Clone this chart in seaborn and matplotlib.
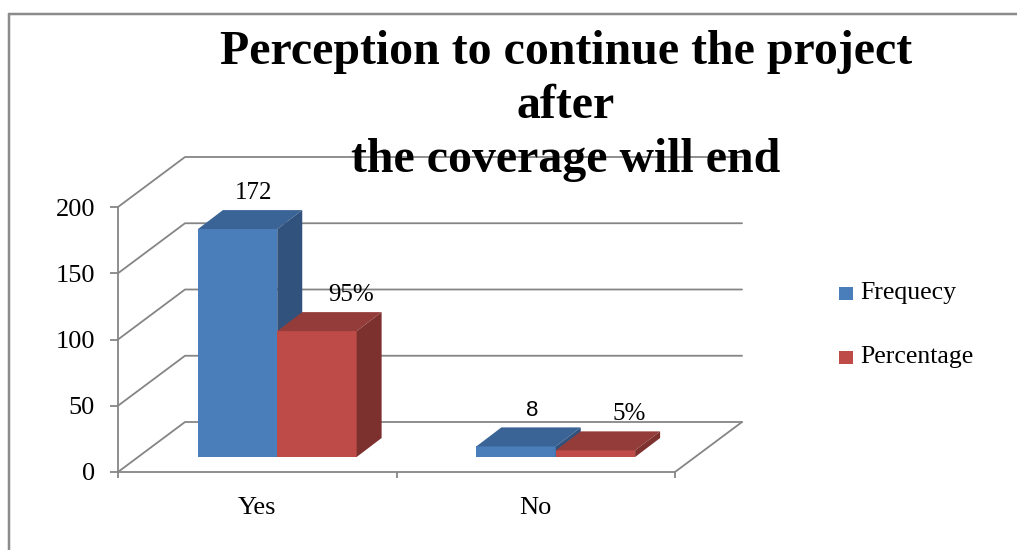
import matplotlib
matplotlib.use("Agg")
import matplotlib.pyplot as plt
from matplotlib.patches import Polygon, Rectangle
from matplotlib.lines import Line2D
from matplotlib.transforms import ScaledTranslation
import seaborn as sns
import pandas as pd

# ---- data -------------------------------------------------------------
categories = ["Yes", "No"]
frequency = [172, 8]
percentage = [95, 5]
frequency_labels = ["172", "8"]
percentage_labels = ["95%", "5%"]
series_names = ["Frequecy", "Percentage"]
y_ticks = [0, 50, 100, 150, 200]
title = "Perception to continue the project\nafter\nthe coverage will end"

# ---- style ------------------------------------------------------------
sns.set_theme(style="white")
plt.rcParams["font.family"] = ["Liberation Serif", "DejaVu Serif"]

W, H, DPI = 1017, 550, 100
GRID = "#858585"
front_col = ["#4a7ebb", "#be4b48"]
top_col = ["#3b6496", "#943c3a"]
side_col = ["#30527d", "#7d312f"]
WALL = (67, 50)      # depth of the 3-D box, pixels
BAR_OFF = (20, 15)   # bar front face sits inside the box
BAR_D = (25, 19)     # depth of each bar, pixels
PT = 72 / DPI        # points per pixel
LW = 1.8 * PT

fig = plt.figure(figsize=(W / DPI, H / DPI), dpi=DPI)
fig.patch.set_facecolor("white")
ax = fig.add_axes([118 / W, 1 - 472 / H, 557 / W, 265 / H])
ax.patch.set_visible(False)

df = pd.DataFrame({
    "Response": categories * 2,
    "Value": frequency + percentage,
    "Series": [series_names[0]] * len(categories) + [series_names[1]] * len(categories),
})
sns.barplot(data=df, x="Response", y="Value", hue="Series", order=categories,
            hue_order=series_names, palette=front_col, saturation=1, width=0.57,
            errorbar=None, legend=False, linewidth=0, ax=ax)
ax.set_xlim(-0.5, 1.5)
ax.set_ylim(0, 200)
ax.set_xlabel("")
ax.set_ylabel("")


def px(x, y):
    return ax.transData.transform((x, y))


def ffrac(points):
    return [(a / W, b / H) for a, b in points]


def seg(points, **kw):
    xs = [p[0] / W for p in points]
    ys = [p[1] / H for p in points]
    ax.add_line(Line2D(xs, ys, transform=fig.transFigure, clip_on=False, **kw))


# ---- back wall, left wall and floor lines ----------------------------
xl, xr = ax.get_xlim()
for t in y_ticks:
    fx, fy = px(xl, t)
    rx, ry = px(xr, t)
    seg([(fx, fy), (fx + WALL[0], fy + WALL[1]), (rx + WALL[0], ry + WALL[1])],
        color=GRID, lw=LW, zorder=0.5)
rx0, ry0 = px(xr, 0)
seg([(rx0, ry0), (rx0 + WALL[0], ry0 + WALL[1])], color=GRID, lw=LW, zorder=0.5)

# ---- 3-D bars ---------------------------------------------------------
labels_by_series = [frequency_labels, percentage_labels]
label_fonts = [["Liberation Serif", "Liberation Sans"], ["Liberation Serif", "Liberation Serif"]]
label_sizes = [[18, 16], [18, 18]]
label_dx = [16, 34]   # horizontal nudge of value labels per series, pixels
label_dy = 36         # label centre above the bar's front top edge, pixels
bars = sorted(ax.patches, key=lambda p: p.get_x())
shift = ScaledTranslation(BAR_OFF[0] / DPI, BAR_OFF[1] / DPI, fig.dpi_scale_trans)
for i, bar in enumerate(bars):
    s = i % 2
    c = i // 2
    z = 3 + i * 0.1
    x0, w, h = bar.get_x(), bar.get_width(), bar.get_height()
    bar.set_transform(ax.transData + shift)
    bar.set_zorder(z)
    bar.set_clip_on(False)
    (ax0, ay0) = px(x0, 0)
    (ax1, ay1) = px(x0 + w, h)
    ax0 += BAR_OFF[0]; ax1 += BAR_OFF[0]
    ay0 += BAR_OFF[1]; ay1 += BAR_OFF[1]
    top = [(ax0, ay1), (ax1, ay1), (ax1 + BAR_D[0], ay1 + BAR_D[1]), (ax0 + BAR_D[0], ay1 + BAR_D[1])]
    side = [(ax1, ay0), (ax1 + BAR_D[0], ay0 + BAR_D[1]), (ax1 + BAR_D[0], ay1 + BAR_D[1]), (ax1, ay1)]
    ax.add_patch(Polygon(ffrac(top), closed=True, facecolor=top_col[s], edgecolor="none",
                         transform=fig.transFigure, clip_on=False, zorder=z + 0.01))
    ax.add_patch(Polygon(ffrac(side), closed=True, facecolor=side_col[s], edgecolor="none",
                         transform=fig.transFigure, clip_on=False, zorder=z + 0.02))
    cx = (ax0 + ax1) / 2 + label_dx[s]
    ax.text(cx / W, (ay1 + label_dy) / H, labels_by_series[s][c], transform=fig.transFigure,
            ha="center", va="center", fontsize=label_sizes[s][c],
            family=label_fonts[s][c], color="black", zorder=10)

# ---- axes, ticks ------------------------------------------------------
for name in ["top", "right"]:
    ax.spines[name].set_visible(False)
for name in ["left", "bottom"]:
    ax.spines[name].set_color(GRID)
    ax.spines[name].set_linewidth(LW)
    ax.spines[name].set_zorder(1)
ax.set_yticks(y_ticks)
ax.set_yticklabels([str(t) for t in y_ticks])
ax.tick_params(axis="y", length=8 * PT, width=LW, color=GRID, pad=15 * PT,
               labelsize=19, labelcolor="black", left=True, direction="out")
ax.set_xticks(range(len(categories)))
ax.set_xticklabels(categories)
ax.set_xticks([-0.5, 0.5, 1.5], minor=True)
ax.tick_params(axis="x", which="major", length=0, pad=25 * PT, labelsize=19, labelcolor="black")
ax.tick_params(axis="x", which="minor", length=6 * PT, width=LW, color=GRID,
               bottom=True, direction="out")
ax.grid(False)

# ---- title ------------------------------------------------------------
fig.text(566 / W, 1 - 106 / H, title, ha="center", va="center", fontsize=34.5,
         fontweight="bold", linespacing=1.3, color="black", zorder=5)

# ---- legend -----------------------------------------------------------
for k, name in enumerate(series_names):
    yc = [293, 357][k]
    fig.patches.append(Rectangle((839 / W, 1 - (yc + 6.5) / H), 14 / W, 13 / H,
                                 transform=fig.transFigure, facecolor=front_col[k],
                                 edgecolor="none", figure=fig))
    fig.text(860 / W, 1 - yc / H, name, ha="left", va="center", fontsize=18.5, color="black")

# ---- outer frame ------------------------------------------------------
fig.add_artist(Line2D([9 / W, 1.0], [1 - 14 / H, 1 - 14 / H], transform=fig.transFigure,
                      color="#8b8b8b", lw=2.5 * PT))
fig.add_artist(Line2D([9 / W, 9 / W], [1 - 14 / H, 0], transform=fig.transFigure,
                      color="#8b8b8b", lw=2.5 * PT))

fig.savefig("out.png", dpi=DPI)
